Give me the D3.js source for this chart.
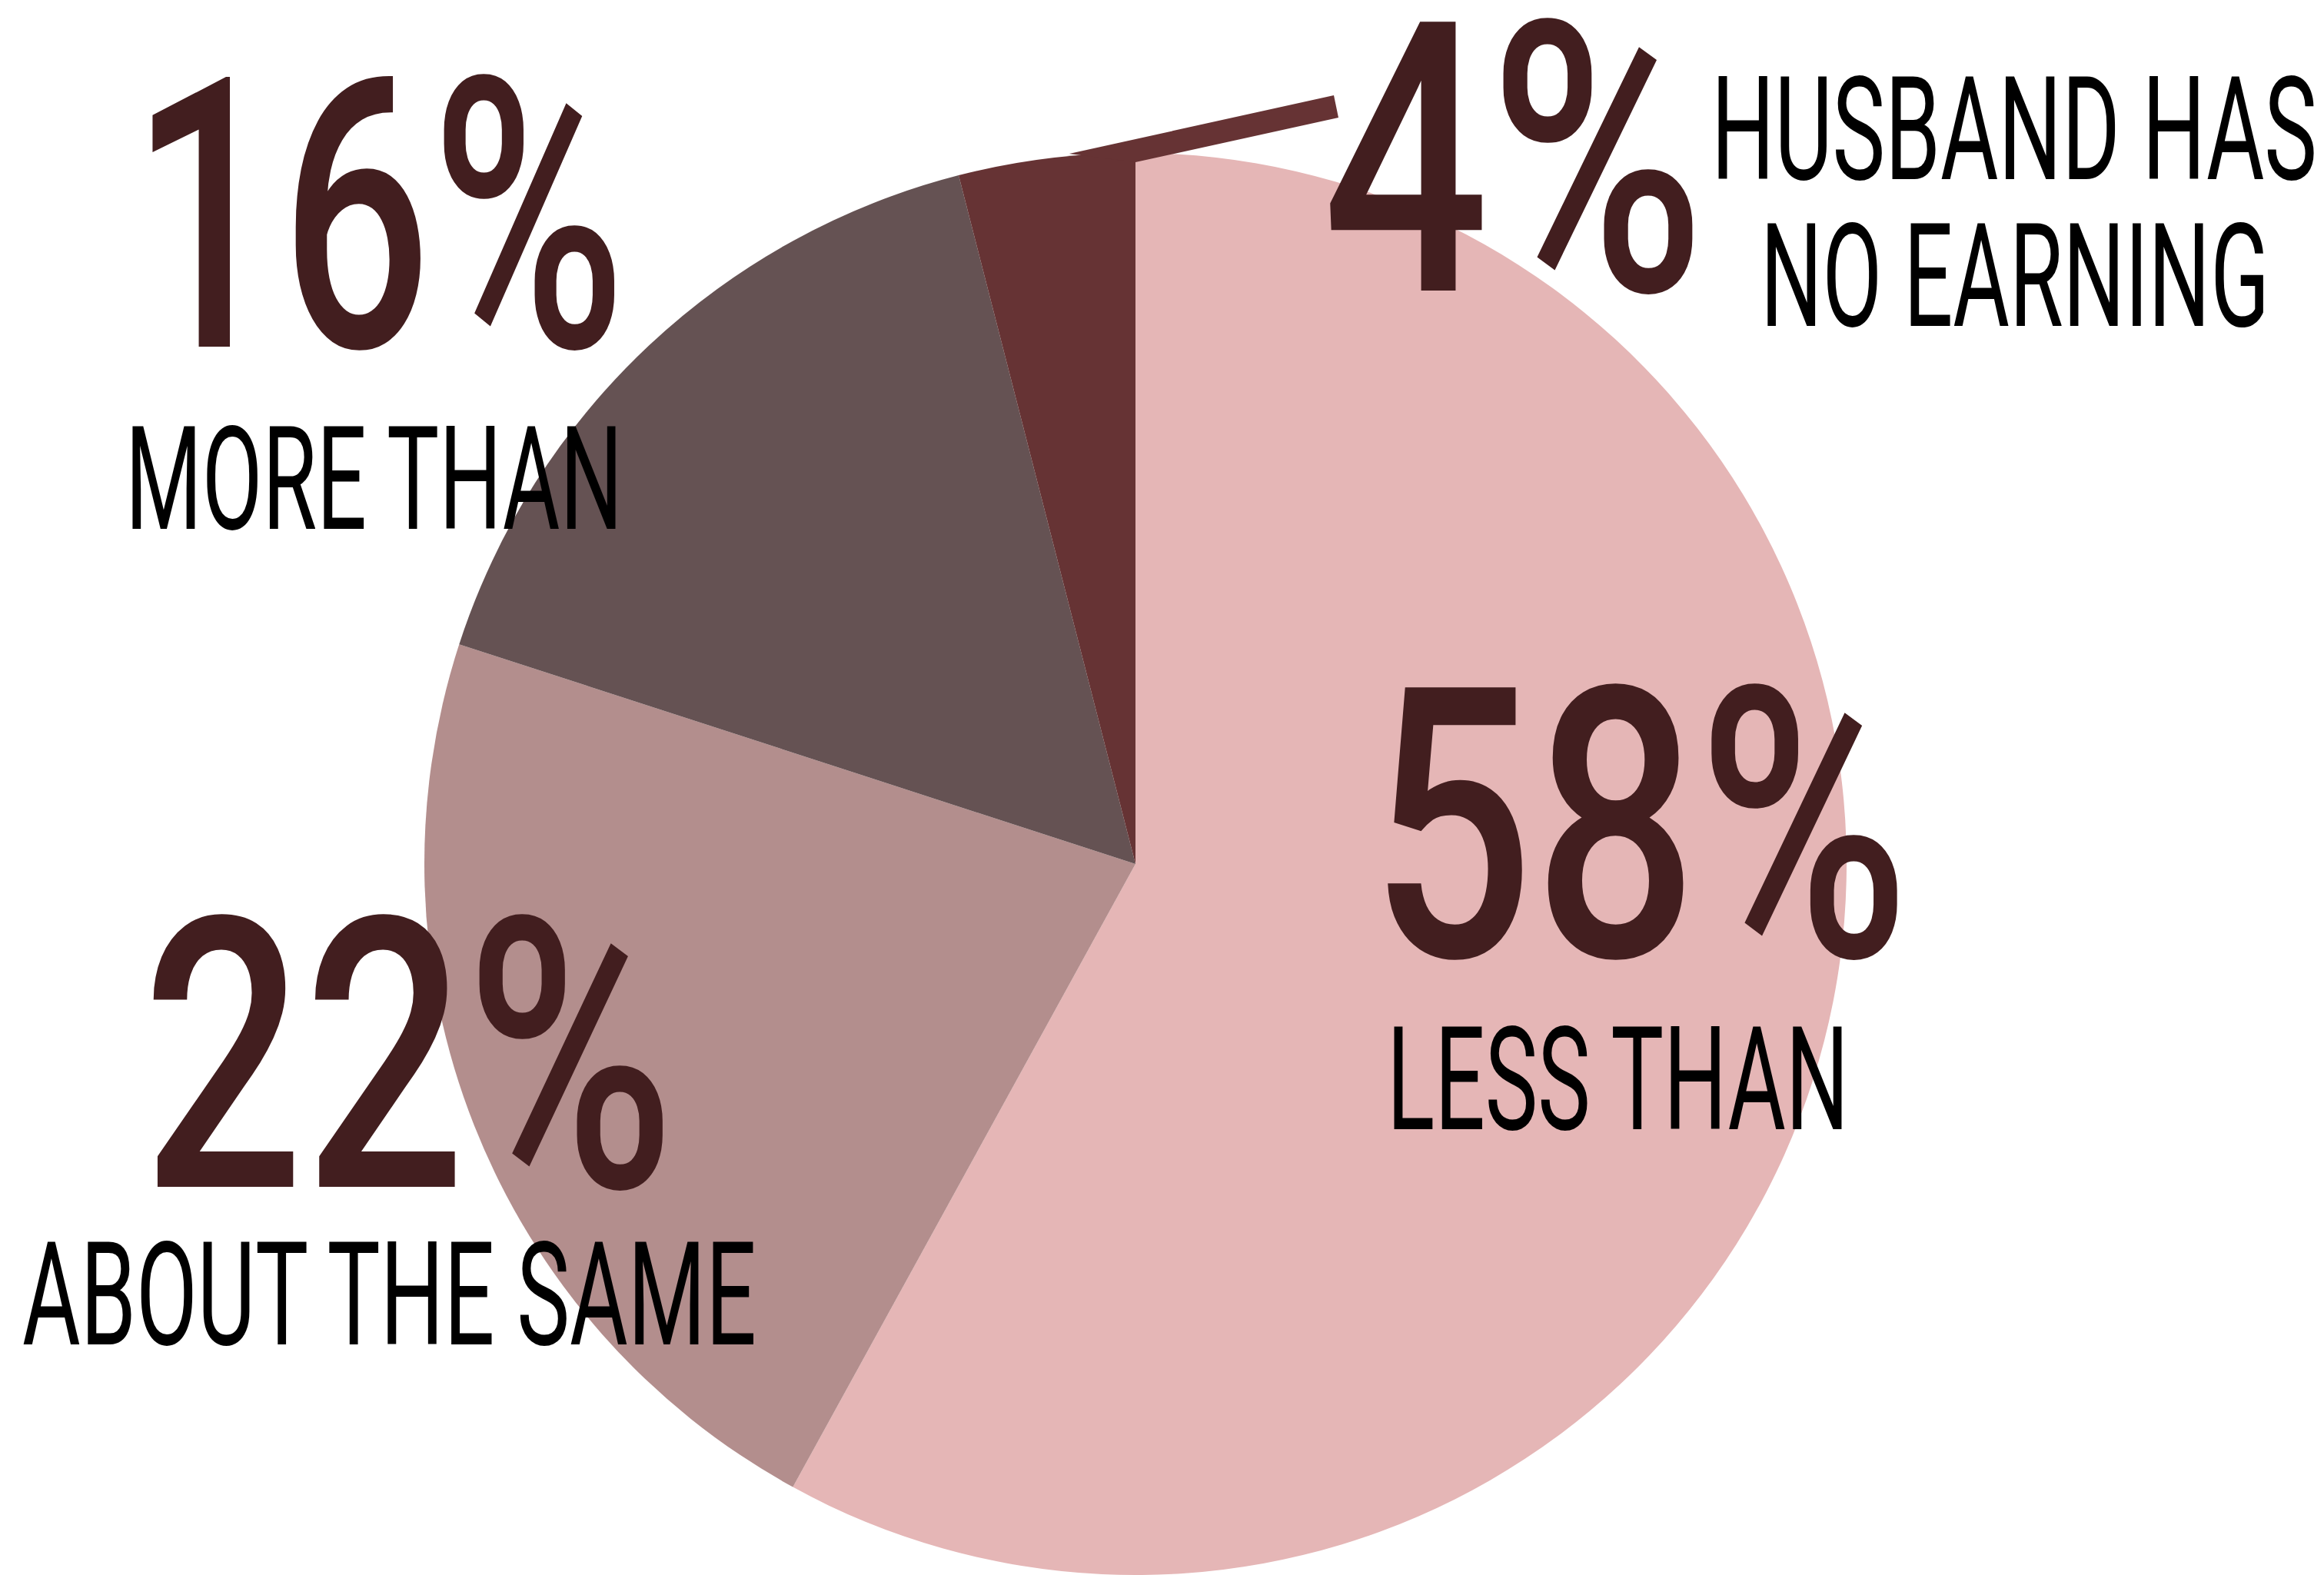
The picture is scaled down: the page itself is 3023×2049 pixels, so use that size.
<!DOCTYPE html>
<html>
<head>
<meta charset="utf-8">
<script src="https://cdn.jsdelivr.net/npm/d3@7"></script>
<style>
  html, body { margin: 0; padding: 0; background: #ffffff; }
  svg { display: block; }
</style>
</head>
<body>
<svg id="chart" width="3023" height="2049"></svg>
<script>
// ---- data ----
const categories = ["LESS THAN", "ABOUT THE SAME", "MORE THAN", "HUSBAND HAS NO EARNING"];
const values = [58, 22, 16, 4];
const valueLabels = ["58%", "22%", "16%", "4%"];
const labelLines = [["LESS THAN"], ["ABOUT THE SAME"], ["MORE THAN"], ["HUSBAND HAS", "NO EARNING"]];

// ---- styles / layout ----
const colors = ["#E5B6B6", "#B38E8D", "#655253", "#663334"];
const numberColor = "#421E1F";
const W = 3023, H = 2049;
const cx = 1477, cy = 1124, R = 925;

// label layout: number (x, baseline, width) + lines (x, baseline, width)
const numberLayout = [
  {x: 1782, y: 1244, w: 702},
  {x: 185,  y: 1544, w: 693},
  {x: 170,  y: 451,  w: 644},
  {x: 1720, y: 378,  w: 498}
];
const lineLayout = [
  [{x: 1804, y: 1469, w: 601}],
  [{x: 29,   y: 1749, w: 955}],
  [{x: 163,  y: 688,  w: 647}],
  [{x: 2226, y: 233,  w: 788}, {x: 2290, y: 424, w: 662}]
];

const svg = d3.select("#chart");
const g = svg.append("g").attr("transform", `translate(${cx},${cy})`);

const pie = d3.pie().sort(null).value(d => d).startAngle(0).endAngle(2 * Math.PI);
const arcs = pie(values);
const arc = d3.arc().innerRadius(0).outerRadius(R);

g.selectAll("path.slice")
  .data(arcs)
  .enter().append("path")
  .attr("class", "slice")
  .attr("d", arc)
  .attr("fill", (d, i) => colors[i]);

// leader band from the small slice up to its label
const small = arcs[3];
const pt = (a, r) => [r * Math.sin(a), -r * Math.cos(a)];
const aStart = small.startAngle + (small.endAngle - small.startAngle) * 0.63;
const p1 = pt(aStart, R + 3);
const p4 = [pt(small.endAngle, R)[0], -R + 12];
const end = [1738 - cx, 139 - cy];
const p2 = [end[0] - 3, end[1] - 15];
const p3 = [end[0] + 3, end[1] + 14];
g.append("path")
  .attr("d", d3.line()([p1, p2, p3, p4]) + "Z")
  .attr("fill", colors[3]);

// number labels
svg.selectAll("text.num")
  .data(valueLabels)
  .enter().append("text")
  .attr("class", "num")
  .attr("x", (d, i) => numberLayout[i].x)
  .attr("y", (d, i) => numberLayout[i].y)
  .attr("textLength", (d, i) => numberLayout[i].w)
  .attr("lengthAdjust", "spacingAndGlyphs")
  .attr("font-family", "Roboto, 'Noto Sans', sans-serif")
  .attr("font-weight", 500)
  .attr("font-size", 492)
  .attr("fill", numberColor)
  .text(d => d);

// category labels
labelLines.forEach((lines, i) => {
  lines.forEach((line, j) => {
    const L = lineLayout[i][j];
    svg.append("text")
      .attr("x", L.x)
      .attr("y", L.y)
      .attr("textLength", L.w)
      .attr("lengthAdjust", "spacingAndGlyphs")
      .attr("font-family", "Roboto, 'Noto Sans', sans-serif")
      .attr("font-weight", 400)
      .attr("font-size", 188)
      .attr("fill", "#000000")
      .text(line);
  });
});
</script>
</body>
</html>
